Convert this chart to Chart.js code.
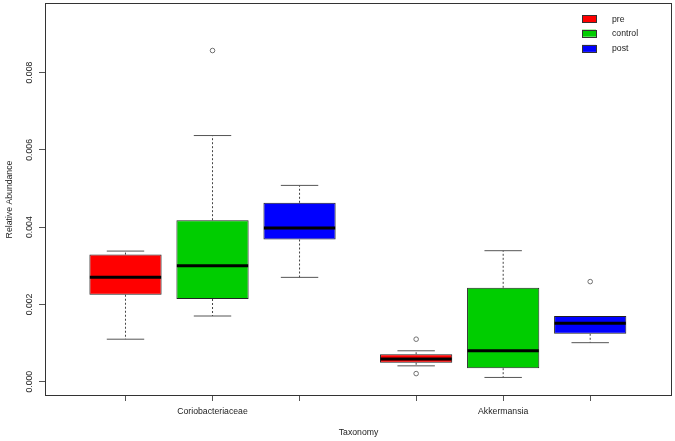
<!DOCTYPE html>
<html>
<head>
<meta charset="utf-8">
<script src="https://cdn.jsdelivr.net/npm/chart.js@4/dist/chart.umd.min.js"></script>
<style>
html,body{margin:0;padding:0;background:#fff;}
#wrap{width:675px;height:441px;position:relative;}
</style>
</head>
<body>
<div id="wrap"><canvas id="c" width="675" height="441"></canvas></div>
<script>
// ---- data ----
const categories = ['Coriobacteriaceae', 'Akkermansia'];
const groups = ['pre', 'control', 'post'];
const colors = ['#ff0000', '#00cd00', '#0000ff'];
// five-number summaries [lowWhisker, q1, median, q3, highWhisker] per category
const preStats     = [[0.00110, 0.00225, 0.00270, 0.00329, 0.00338], [0.00041, 0.00049, 0.00059, 0.00071, 0.00080]];
const controlStats = [[0.00170, 0.00214, 0.00300, 0.00418, 0.00637], [0.00011, 0.00035, 0.00080, 0.00243, 0.00339]];
const postStats    = [[0.00270, 0.00368, 0.00398, 0.00463, 0.00508], [0.00101, 0.00124, 0.00151, 0.00170, 0.00170]];
const preOutliers     = [[], [0.00110, 0.00021]];
const controlOutliers = [[0.00857], []];
const postOutliers    = [[], [0.00259]];
const yTicks = [0, 0.002, 0.004, 0.006, 0.008];

const allStats = [preStats, controlStats, postStats];
const allOutliers = [preOutliers, controlOutliers, postOutliers];
const groupGap = 1.34;
function posOf(ci, gi) { return 1 + ci * (groups.length + groupGap - 1) + gi; }
const positions = [];
categories.forEach((c, ci) => groups.forEach((g, gi) => positions.push(posOf(ci, gi))));
const labelAt = {};
categories.forEach((c, ci) => { labelAt[posOf(ci, 1).toFixed(3)] = c; });

const datasets = [];
groups.forEach((g, gi) => {
  datasets.push({
    type: 'bar',
    label: g,
    data: categories.map((c, ci) => ({ x: posOf(ci, gi), y: [allStats[gi][ci][1], allStats[gi][ci][3]], stats: allStats[gi][ci], outliers: allOutliers[gi][ci] })),
    backgroundColor: colors[gi],
    borderColor: '#222',
    borderWidth: 1,
    borderSkipped: false,
    grouped: false,
    barPercentage: 0.83,
    categoryPercentage: 1.0
  });
});

const FONT = 'Liberation Sans, Arial, sans-serif';

const boxPlugin = {
  id: 'boxDecor',
  afterDatasetsDraw(chart) {
    const ctx = chart.ctx;
    const xs = chart.scales.x, ys = chart.scales.y;
    const halfCap = 0.215;
    ctx.save();
    for (let gi = 0; gi < groups.length; gi++) {
      const meta = chart.getDatasetMeta(gi);
      meta.data.forEach((bar, ci) => {
        const d = chart.data.datasets[gi].data[ci];
        const s = d.stats;
        const cx = xs.getPixelForValue(d.x);
        const bw = bar.width;
        const yLow = ys.getPixelForValue(s[0]);
        const yQ1 = ys.getPixelForValue(s[1]);
        const yMed = ys.getPixelForValue(s[2]);
        const yQ3 = ys.getPixelForValue(s[3]);
        const yHigh = ys.getPixelForValue(s[4]);
        ctx.strokeStyle = '#444';
        ctx.lineWidth = 1;
        ctx.setLineDash([2, 2]);
        ctx.beginPath();
        if (yHigh < yQ3 - 0.5) { ctx.moveTo(cx, yQ3); ctx.lineTo(cx, yHigh); }
        if (yLow > yQ1 + 0.5) { ctx.moveTo(cx, yQ1); ctx.lineTo(cx, yLow); }
        ctx.stroke();
        ctx.setLineDash([]);
        const capL = xs.getPixelForValue(d.x - halfCap);
        const capR = xs.getPixelForValue(d.x + halfCap);
        ctx.strokeStyle = '#555';
        ctx.beginPath();
        if (yHigh < yQ3 - 0.5) { ctx.moveTo(capL, yHigh); ctx.lineTo(capR, yHigh); }
        if (yLow > yQ1 + 0.5) { ctx.moveTo(capL, yLow); ctx.lineTo(capR, yLow); }
        ctx.stroke();
        ctx.strokeStyle = '#000';
        ctx.lineWidth = 3;
        ctx.beginPath();
        ctx.moveTo(cx - bw / 2 + 0.5, yMed);
        ctx.lineTo(cx + bw / 2 - 0.5, yMed);
        ctx.stroke();
        // outliers
        ctx.strokeStyle = '#707070';
        ctx.lineWidth = 1;
        d.outliers.forEach(v => {
          ctx.beginPath();
          ctx.arc(cx, ys.getPixelForValue(v), 2.3, 0, Math.PI * 2);
          ctx.stroke();
        });
      });
    }
    ctx.restore();
  },
  afterDraw(chart) {
    const ctx = chart.ctx;
    const a = chart.chartArea;
    const ys = chart.scales.y;
    ctx.save();
    ctx.strokeStyle = '#333';
    ctx.lineWidth = 1;
    ctx.strokeRect(Math.round(a.left) + 0.5, Math.round(a.top) + 0.5, Math.round(a.right - a.left) - 1, Math.round(a.bottom - a.top) - 1);
    ctx.fillStyle = '#222';
    ctx.font = '8.7px ' + FONT;
    ctx.textAlign = 'center';
    ctx.textBaseline = 'middle';
    ys.ticks.forEach(t => {
      const y = ys.getPixelForValue(t.value);
      ctx.save();
      ctx.translate(30, y);
      ctx.rotate(-Math.PI / 2);
      ctx.fillText(t.value.toFixed(3), 0, 0);
      ctx.restore();
    });
    const lx = 582, ly = [18.7, 33.2, 48.4];
    ctx.textAlign = 'left';
    groups.forEach((g, gi) => {
      ctx.fillStyle = colors[gi];
      ctx.fillRect(lx, ly[gi] - 3.5, 14, 7);
      ctx.strokeStyle = '#333';
      ctx.strokeRect(lx + 0.5, Math.round(ly[gi] - 3.5) + 0.5, 14, 7);
      ctx.fillStyle = '#222';
      ctx.fillText(g, 612, ly[gi] + 0.5);
    });
    ctx.restore();
  }
};

new Chart(document.getElementById('c'), {
  type: 'bar',
  data: { datasets },
  options: {
    responsive: false,
    animation: false,
    layout: { padding: { top: 3, right: 3, left: 0, bottom: 0 } },
    plugins: { legend: { display: false }, tooltip: { enabled: false } },
    scales: {
      x: {
        type: 'linear',
        offset: false,
        min: 0.075,
        max: 7.28,
        afterBuildTicks(scale) { scale.ticks = positions.map(v => ({ value: v })); },
        afterFit(scale) { scale.height = 45; },
        grid: { offset: false, drawOnChartArea: false, drawTicks: true, tickLength: 5, color: '#555' },
        border: { display: false },
        ticks: {
          autoSkip: false,
          maxRotation: 0,
          padding: 0,
          color: '#222',
          font: { family: FONT, size: 8.7, lineHeight: 2.46 },
          callback: (v) => labelAt[Number(v).toFixed(3)] || ''
        },
        title: { display: true, text: 'Taxonomy', color: '#222', font: { family: FONT, size: 8.7 }, padding: { top: 0, bottom: 3 } }
      },
      y: {
        type: 'linear',
        min: -0.00037,
        max: 0.0098,
        afterBuildTicks(scale) { scale.ticks = yTicks.map(v => ({ value: v })); },
        afterFit(scale) { scale.width = 45; },
        grid: { drawOnChartArea: false, drawTicks: true, tickLength: 6, color: '#555' },
        border: { display: false },
        ticks: { display: false },
        title: { display: true, text: 'Relative Abundance', color: '#222', font: { family: FONT, size: 8.7 }, padding: { top: 4, bottom: 0 } }
      }
    }
  },
  plugins: [boxPlugin]
});
</script>
</body>
</html>
